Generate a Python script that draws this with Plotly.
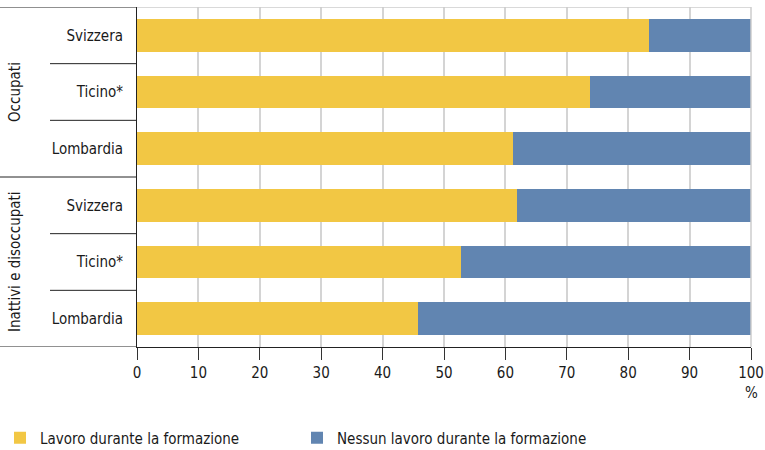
import plotly.graph_objects as go

# Share of graduates who worked during their studies, by status and region (%)
groups = ["Occupati", "Inattivi e disoccupati"]
regions = ["Svizzera", "Ticino*", "Lombardia", "Svizzera", "Ticino*", "Lombardia"]
lavoro = [83.4, 73.8, 61.2, 61.9, 52.7, 45.7]
nessun_lavoro = [100 - v for v in lavoro]
x_ticks = [0, 10, 20, 30, 40, 50, 60, 70, 80, 90, 100]

series_names = ["Lavoro durante la formazione", "Nessun lavoro durante la formazione"]
yellow = "#F2C744"
blue = "#6185B1"
font_family = "DejaVu Sans Condensed, Liberation Sans Narrow, Arial Narrow, sans-serif"
text_color = "#1a1a1a"

rows = list(range(len(regions)))

fig = go.Figure()
fig.add_trace(go.Bar(
    y=rows, x=lavoro, orientation="h", name=series_names[0],
    marker=dict(color=yellow, line=dict(width=0)), width=0.58,
))
fig.add_trace(go.Bar(
    y=rows, x=nessun_lavoro, orientation="h", name=series_names[1],
    marker=dict(color=blue, line=dict(width=0)), width=0.58,
))

W, H = 765, 450
ml, mr, mt, mb = 137, 14, 7, 103
pw = W - ml - mr
ph = H - mt - mb
left_edge = -ml / pw
sub_edge = (50 - ml) / pw

fig.update_layout(
    width=W, height=H,
    margin=dict(l=ml, r=mr, t=mt, b=mb, autoexpand=False),
    barmode="stack",
    bargap=0.42,
    paper_bgcolor="white", plot_bgcolor="white",
    font=dict(family=font_family, size=15, color=text_color),
    showlegend=True,
    legend=dict(
        orientation="h", traceorder="normal",
        xref="container", yref="container",
        x=-3 / W, xanchor="left", y=1 - 438 / H, yanchor="middle",
        entrywidth=252, entrywidthmode="pixels",
        font=dict(size=15, color=text_color),
        itemclick=False, itemdoubleclick=False,
    ),
    xaxis=dict(
        range=[0, 100], tickvals=x_ticks,
        showgrid=True, gridcolor="#d4d4d4", gridwidth=1.5,
        showline=True, linecolor="#222222", linewidth=1,
        ticks="outside", ticklen=12, tickcolor="#333333",
        tickfont=dict(size=15), zeroline=False, automargin=False,
    ),
    yaxis=dict(
        range=[5.5, -0.5], tickvals=rows, ticktext=regions,
        showgrid=False, zeroline=False,
        showline=True, linecolor="#222222", linewidth=1,
        ticks="outside", ticklen=0, ticklabelstandoff=10,
        tickfont=dict(size=15), automargin=False,
    ),
)

# top and right border of the plot, top line over the label column
fig.add_shape(type="line", xref="paper", yref="y", x0=0, x1=1, y0=-0.5, y1=-0.5,
              line=dict(color="#cccccc", width=1.5))
fig.add_shape(type="line", xref="paper", yref="y", x0=1, x1=1, y0=-0.5, y1=5.5,
              line=dict(color="#cccccc", width=1.5))
fig.add_shape(type="line", xref="paper", yref="y", x0=left_edge, x1=0, y0=-0.5, y1=-0.5,
              line=dict(color="#222222", width=1))
# bottom line under the label column
fig.add_shape(type="line", xref="paper", yref="y", x0=left_edge, x1=0, y0=5.5, y1=5.5,
              line=dict(color="#222222", width=1))
# separator between the two groups
fig.add_shape(type="line", xref="paper", yref="y", x0=left_edge, x1=0, y0=2.5, y1=2.5,
              line=dict(color="#222222", width=1))
# separators between regions inside each group
for yb in [0.5, 1.5, 3.5, 4.5]:
    fig.add_shape(type="line", xref="paper", yref="y", x0=sub_edge, x1=0, y0=yb, y1=yb,
                  line=dict(color="#222222", width=1))

# rotated group labels
for gi, g in enumerate(groups):
    fig.add_annotation(
        text=g, textangle=-90, xref="paper", yref="y",
        x=(15 - ml) / pw, y=gi * 3 + 1, xanchor="center", yanchor="middle",
        showarrow=False, font=dict(size=15, color=text_color),
    )

# unit label under the last tick
fig.add_annotation(text="%", xref="x", yref="paper", x=100, y=-46 / ph,
                   xanchor="center", yanchor="middle", showarrow=False,
                   font=dict(size=15, color=text_color))

fig.write_html("out.html")
